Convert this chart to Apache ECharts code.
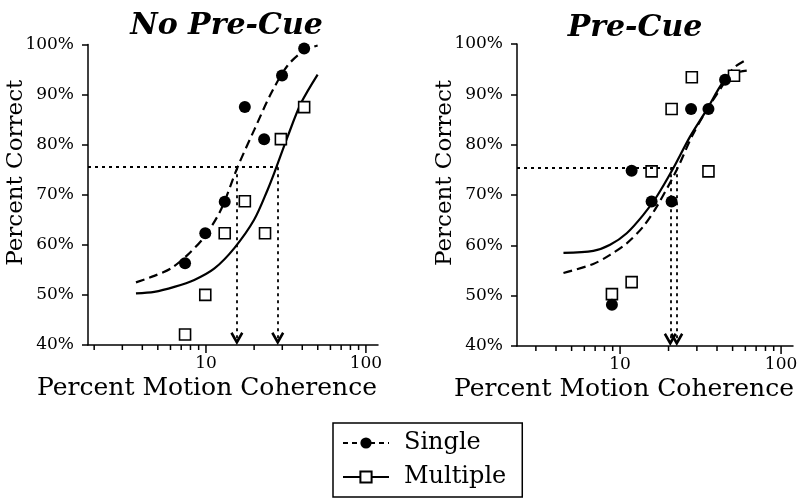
<!DOCTYPE html>
<html>
<head>
<meta charset="utf-8">
<script src="https://cdn.jsdelivr.net/npm/echarts@6/dist/echarts.min.js"></script>
<style>html,body{margin:0;padding:0;background:#fff;}#c{width:807px;height:498px;}</style>
</head>
<body>
<div id="c"></div>
<script>
// ---- data ----
const panelTitles = ['No Pre-Cue', 'Pre-Cue'];
const legendNames = ['Single', 'Multiple'];
const xTickMinor = [2, 3, 4, 5, 6, 7, 8, 9, 20, 30, 40, 50, 60, 70, 80, 90];
const xTickMajor = [10, 100];
const criterion = 75.5;

// No Pre-Cue panel
const noCueSingleX = [7.4, 9.9, 13.1, 17.5, 23.1, 29.9, 41.1];
const noCueSingleY = [56.3, 62.3, 68.6, 87.5, 81.1, 93.8, 99.2];
const noCueMultX = [7.4, 9.9, 13.1, 17.5, 23.4, 29.4, 41.1];
const noCueMultY = [42.1, 50.0, 62.3, 68.7, 62.3, 81.1, 87.5];
const noCueSingleFitX = [3.65, 4.75, 6.04, 7.68, 9.77, 12.4, 15.8, 20.0, 25.5, 32.4, 41.1, 49.9];
const noCueSingleFitY = [52.5, 53.8, 55.3, 58.0, 61.6, 67.0, 75.6, 82.9, 90.2, 95.8, 98.8, 99.8];
const noCueMultFitX = [3.65, 4.75, 6.34, 8.45, 11.3, 15.0, 20.0, 24.3, 26.7, 32.4, 39.3, 49.9];
const noCueMultFitY = [50.3, 50.6, 51.6, 53.0, 55.3, 59.3, 65.0, 71.0, 74.3, 81.6, 88.3, 94.0];
const noCueThresholds = [15.6, 28.1];

// Pre-Cue panel
const preCueSingleX = [8.9, 11.8, 15.7, 20.9, 27.6, 35.4, 44.9];
const preCueSingleY = [48.2, 74.8, 68.7, 68.7, 87.1, 87.1, 92.9];
const preCueMultX = [8.9, 11.8, 15.7, 20.9, 27.9, 35.4, 51.0];
const preCueMultY = [50.3, 52.7, 74.7, 87.1, 93.4, 74.7, 93.7];
const preCueSingleFitX = [4.45, 6.82, 8.67, 11.0, 13.9, 16.9, 22.5, 27.9, 34.5, 43.8, 50.6, 61.2];
const preCueSingleFitY = [54.5, 56.3, 58.1, 60.4, 63.7, 67.7, 75.0, 81.6, 86.9, 92.0, 95.2, 96.9];
const preCueMultFitX = [4.45, 6.82, 8.67, 11.0, 13.9, 16.9, 21.4, 27.2, 34.5, 43.8, 51.8, 61.2];
const preCueMultFitY = [58.5, 58.9, 60.1, 62.4, 66.0, 69.7, 75.3, 81.6, 86.9, 92.5, 94.2, 94.7];
const preCueThresholds = [20.5, 22.5];

// axis extents
const xMinL = 1.83, xMaxL = 119;
const xMinR = 2.29, xMaxR = 118.6;

// ---- chart ----
const FONT = 'DejaVu Serif';
const zip = (xs, ys) => xs.map((x, i) => [x, ys[i]]);
const ARROW = 'path://M6,0 L12,10.5 L10,12 L6,5 L2,12 L0,10.5 Z';

function xAxisCfg(gi, min, max, padR) {
  return {
    type: 'log', logBase: 10, gridIndex: gi, min: min, max: max,
    axisLine: { show: true, onZero: false, lineStyle: { color: '#000', width: 1.5 } },
    axisTick: { show: false },
    splitLine: { show: false },
    axisLabel: {
      color: '#000', fontFamily: FONT, fontSize: 17, margin: 10,
      formatter: function (v) {
        const l = Math.log10(v);
        return Math.abs(l - Math.round(l)) < 1e-6 && v >= 10 ? String(Math.round(v)) : '';
      }
    },
    name: 'Percent Motion Coherence', nameLocation: 'middle', nameGap: 31, nameMoveOverlap: false,
    nameTextStyle: { color: '#000', fontFamily: FONT, fontSize: 25, padding: [0, padR, 0, 0] }
  };
}
function yAxisCfg(gi) {
  return {
    type: 'value', gridIndex: gi, min: 40, max: 100, interval: 10,
    axisLine: { show: true, lineStyle: { color: '#000', width: 1.5 } },
    axisTick: { show: true, length: 6, lineStyle: { color: '#000', width: 1.5 } },
    splitLine: { show: false },
    axisLabel: { color: '#000', fontFamily: FONT, fontSize: 17, margin: 14, formatter: '{value}%' },
    name: 'Percent Correct', nameLocation: 'middle', nameGap: 60, nameMoveOverlap: false,
    nameTextStyle: { color: '#000', fontFamily: FONT, fontSize: 23, padding: [0, 0, 0, 44] }
  };
}
function tickSeries(gi, min, vals, h) {
  return {
    type: 'scatter', xAxisIndex: gi, yAxisIndex: gi, silent: true, clip: false, z: 1,
    symbol: 'rect', symbolSize: [1.5, h], symbolOffset: [0, h / 2],
    itemStyle: { color: '#000', opacity: 1 },
    data: vals.filter(v => v >= min).map(v => [v, 40])
  };
}
function thresholdLines(xMin, thr) {
  const lastX = Math.max.apply(null, thr);
  const data = [[{ coord: [xMin, criterion] }, { coord: [lastX, criterion] }]];
  thr.forEach(t => {
    data.push([{ coord: [t, criterion] }, { coord: [t, 41.3], symbol: ARROW, symbolSize: [13, 13] }]);
  });
  return {
    silent: true, symbol: ['none', 'none'], animation: false,
    label: { show: false },
    lineStyle: { color: '#000', type: [3, 4], width: 1.8, opacity: 1 },
    data: data
  };
}
function panelSeries(gi, xMin, sFitX, sFitY, mFitX, mFitY, sX, sY, mX, mY, thr) {
  return [
    tickSeries(gi, xMin, xTickMinor, 5),
    tickSeries(gi, xMin, xTickMajor, 8),
    {
      type: 'line', name: 'singleFit' + gi, xAxisIndex: gi, yAxisIndex: gi, data: zip(sFitX, sFitY),
      smooth: 0.3, showSymbol: false, silent: true, z: 2,
      lineStyle: { color: '#000', width: 2.2, type: [9, 5] },
      markLine: thresholdLines(xMin, thr)
    },
    {
      type: 'line', name: 'multFit' + gi, xAxisIndex: gi, yAxisIndex: gi, data: zip(mFitX, mFitY),
      smooth: 0.3, showSymbol: false, silent: true, z: 2,
      lineStyle: { color: '#000', width: 2.2, type: 'solid' }
    },
    {
      type: 'scatter', name: 'singlePts' + gi, xAxisIndex: gi, yAxisIndex: gi, data: zip(sX, sY),
      symbol: 'circle', symbolSize: 12, z: 4, clip: false,
      itemStyle: { color: '#000', opacity: 1 }
    },
    {
      type: 'scatter', name: 'multPts' + gi, xAxisIndex: gi, yAxisIndex: gi, data: zip(mX, mY),
      symbol: 'rect', symbolSize: 11, z: 3, clip: false,
      itemStyle: { color: '#fff', borderColor: '#000', borderWidth: 1.6, opacity: 1 }
    }
  ];
}

const chart = echarts.init(document.getElementById('c'), null, { renderer: 'canvas' });
const series = []
  .concat(panelSeries(0, xMinL, noCueSingleFitX, noCueSingleFitY, noCueMultFitX, noCueMultFitY,
    noCueSingleX, noCueSingleY, noCueMultX, noCueMultY, noCueThresholds))
  .concat(panelSeries(1, xMinR, preCueSingleFitX, preCueSingleFitY, preCueMultFitX, preCueMultFitY,
    preCueSingleX, preCueSingleY, preCueMultX, preCueMultY, preCueThresholds));
// legend entries
series.push({
  type: 'line', name: legendNames[0], xAxisIndex: 0, yAxisIndex: 0, data: [],
  symbol: 'circle', itemStyle: { color: '#000' }, lineStyle: { color: '#000', width: 1.5, type: [5, 4] }
});
series.push({
  type: 'line', name: legendNames[1], xAxisIndex: 0, yAxisIndex: 0, data: [],
  symbol: 'rect', itemStyle: { color: '#fff', borderColor: '#000', borderWidth: 1.5 },
  lineStyle: { color: '#000', width: 1.5, type: 'solid' }
});

chart.setOption({
  animation: false,
  backgroundColor: '#fff',
  grid: [
    { left: 88, top: 44.5, width: 290, height: 300.5, outerBoundsMode: 'none', containLabel: false },
    { left: 517, top: 44, width: 276, height: 302, outerBoundsMode: 'none', containLabel: false }
  ],
  xAxis: [xAxisCfg(0, xMinL, xMaxL, 52), xAxisCfg(1, xMinR, xMaxR, 62)],
  yAxis: [yAxisCfg(0), yAxisCfg(1)],
  legend: {
    data: legendNames, orient: 'vertical', left: 333, top: 423,
    itemWidth: 46, itemHeight: 14, itemGap: 10,
    padding: [8, 16, 8, 9],
    borderColor: '#000', borderWidth: 1.5, borderRadius: 0,
    selectedMode: false,
    textStyle: { color: '#000', fontFamily: FONT, fontSize: 24, padding: [0, 0, 0, 10] }
  },
  graphic: [
    { type: 'text', x: 226.5, y: 26, silent: true,
      style: { text: panelTitles[0], align: 'center', verticalAlign: 'middle', fill: '#000',
        font: 'italic bold 30px "DejaVu Serif"' } },
    { type: 'text', x: 635, y: 28, silent: true,
      style: { text: panelTitles[1], align: 'center', verticalAlign: 'middle', fill: '#000',
        font: 'italic bold 30px "DejaVu Serif"' } }
  ],
  series: series
});
</script>
</body>
</html>
